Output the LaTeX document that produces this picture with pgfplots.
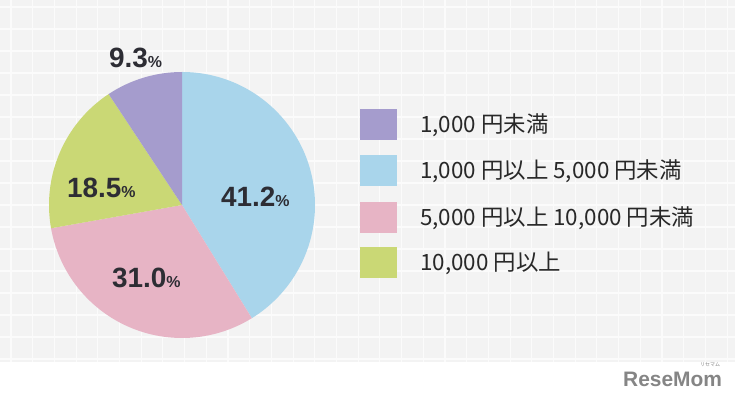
\documentclass[border=0pt]{standalone}
\usepackage{pgfplots}
\pgfplotsset{compat=1.18}
\usepackage{pgfplotstable}
\usepackage{fontspec}
\setmainfont{Liberation Sans}
\newfontfamily\jp{Noto Sans CJK JP}
\definecolor{cPur}{RGB}{165,156,205}
\definecolor{cBlu}{RGB}{169,213,235}
\definecolor{cPnk}{RGB}{231,180,197}
\definecolor{cGrn}{RGB}{202,216,117}
\definecolor{bgc}{RGB}{243,243,243}
\definecolor{gridc}{RGB}{251,251,251}
\definecolor{lab}{RGB}{45,45,52}
\definecolor{leg}{RGB}{40,40,40}

% shares, clockwise from 12 o'clock
\pgfplotstableread{
share
41.2
31.0
18.5
9.3
}\piedata
\pgfplotstablegetelem{0}{share}\of\piedata \let\sA\pgfplotsretval
\pgfplotstablegetelem{1}{share}\of\piedata \let\sB\pgfplotsretval
\pgfplotstablegetelem{2}{share}\of\piedata \let\sC\pgfplotsretval
\pgfplotstablegetelem{3}{share}\of\piedata \let\sD\pgfplotsretval
\pgfmathsetmacro\aA{90}
\pgfmathsetmacro\aB{\aA-3.6*\sA}
\pgfmathsetmacro\aC{\aB-3.6*\sB}
\pgfmathsetmacro\aD{\aC-3.6*\sC}
\pgfmathsetmacro\aE{\aD-3.6*\sD}

\newcommand\pct[1]{{\fontsize{28}{28}\selectfont\bfseries #1{\fontsize{16}{16}\selectfont\%}}}

\begin{document}
\begin{tikzpicture}
\useasboundingbox (0,0) rectangle (735bp,404bp);
\fill[white] (0,0) rectangle (735bp,404bp);
\fill[bgc] (0,42bp) rectangle (735bp,404bp);
\foreach \i in {0,...,33} {
  \draw[gridc, line width=1.1bp] ({(11+21.7*\i)*1bp},42bp) -- ({(11+21.7*\i)*1bp},404bp);
}
\foreach \j in {0,...,16} {
  \draw[gridc, line width=1.1bp] (0,{(397-22*\j)*1bp}) -- (735bp,{(397-22*\j)*1bp});
}
\begin{axis}[
  at={(0,0)}, anchor=south west,
  width=735bp, height=404bp, scale only axis,
  xmin=0, xmax=735, ymin=0, ymax=404,
  hide axis, clip=false,
]
\fill[cBlu] (axis cs:182,199) -- ++(\aA:133bp) arc[start angle=\aA, end angle=\aB, radius=133bp] -- cycle;
\fill[cPnk] (axis cs:182,199) -- ++(\aB:133bp) arc[start angle=\aB, end angle=\aC, radius=133bp] -- cycle;
\fill[cGrn] (axis cs:182,199) -- ++(\aC:133bp) arc[start angle=\aC, end angle=\aD, radius=133bp] -- cycle;
\fill[cPur] (axis cs:182,199) -- ++(\aD:133bp) arc[start angle=\aD, end angle=\aE, radius=133bp] -- cycle;

\node[anchor=base west, inner sep=0, text=lab] at (axis cs:221,197) {\pct{\sA}};
\node[anchor=base west, inner sep=0, text=lab] at (axis cs:112,116) {\pct{\sB}};
\node[anchor=base west, inner sep=0, text=lab] at (axis cs:67,206) {\pct{\sC}};
\node[anchor=base west, inner sep=0, text=lab] at (axis cs:109,336) {\pct{\sD}};

% legend
\fill[cPur] (axis cs:360,264) rectangle (axis cs:397,295);
\fill[cBlu] (axis cs:360,218) rectangle (axis cs:397,249);
\fill[cPnk] (axis cs:360,171) rectangle (axis cs:397,202);
\fill[cGrn] (axis cs:360,126) rectangle (axis cs:397,157);
\begin{scope}[every node/.style={anchor=base west, inner sep=0, text=leg, font=\jp\fontsize{22.5}{22.5}\selectfont}]
\node at (axis cs:420,271) {1,000 円未満};
\node at (axis cs:420,225) {1,000 円以上 5,000 円未満};
\node at (axis cs:420,178) {5,000 円以上 10,000 円未満};
\node at (axis cs:420,133) {10,000 円以上};
\end{scope}

\node[anchor=base west, inner sep=0, text=black!48, font=\bfseries\fontsize{21}{21}\selectfont] at (axis cs:623,17) {ReseMom};
\node[anchor=base west, inner sep=0, text=black!48, font=\jp\fontsize{5}{5}\selectfont] at (axis cs:700,37) {リセマム};
\end{axis}
\end{tikzpicture}
\end{document}
